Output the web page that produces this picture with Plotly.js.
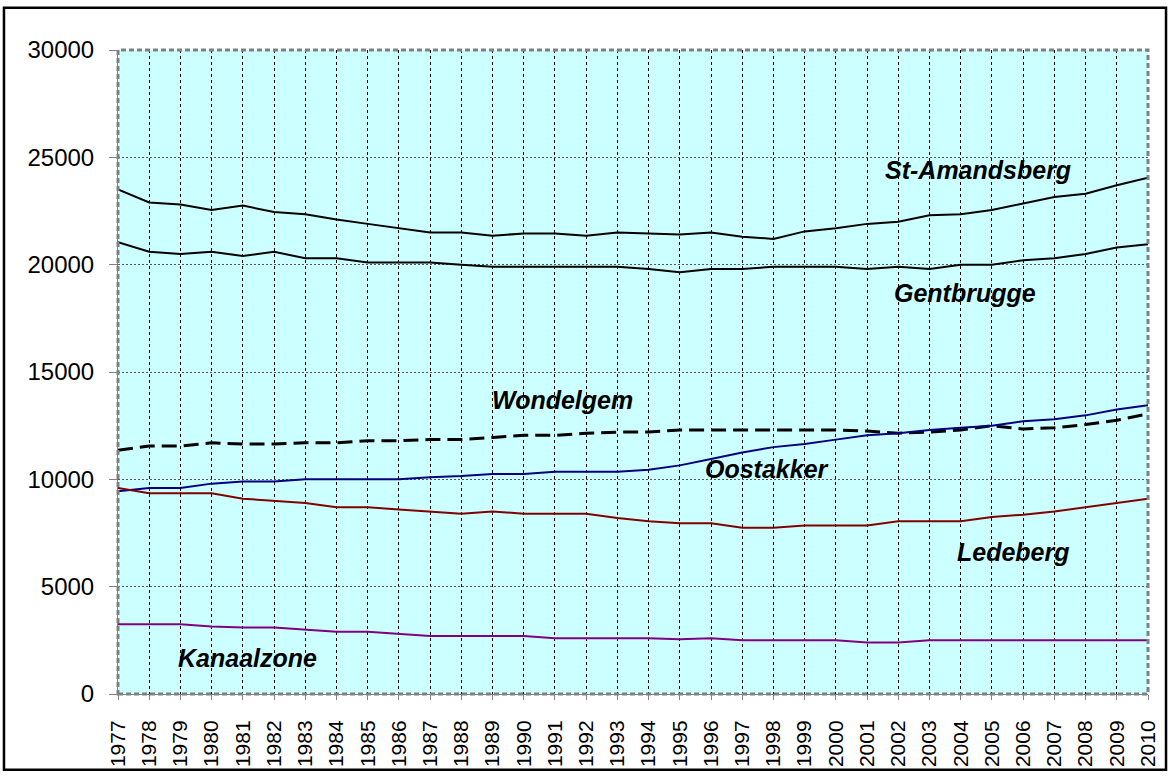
<!DOCTYPE html>
<html>
<head>
<meta charset="utf-8">
<script src="https://cdn.plot.ly/plotly-3.0.1.min.js"></script>
<style>
html,body{margin:0;padding:0;background:#fff;}
#chart{width:1175px;height:776px;}
</style>
</head>
<body>
<div id="chart"></div>
<script>
const years = [1977,1978,1979,1980,1981,1982,1983,1984,1985,1986,1987,1988,1989,1990,1991,1992,1993,1994,1995,1996,1997,1998,1999,2000,2001,2002,2003,2004,2005,2006,2007,2008,2009,2010];

const stAmandsberg = [23500,22900,22800,22550,22750,22450,22350,22100,21900,21700,21500,21500,21350,21450,21450,21350,21500,21450,21400,21500,21300,21200,21550,21700,21900,22000,22300,22350,22550,22850,23150,23300,23700,24050];
const gentbrugge   = [21050,20600,20500,20600,20400,20600,20300,20300,20100,20100,20100,20000,19900,19900,19900,19900,19900,19800,19650,19800,19800,19900,19900,19900,19800,19900,19800,20000,20000,20200,20300,20500,20800,20950];
const wondelgem    = [11350,11550,11550,11700,11650,11650,11700,11700,11800,11800,11850,11850,11950,12050,12050,12150,12200,12200,12300,12300,12300,12300,12300,12300,12250,12150,12200,12300,12500,12350,12400,12550,12750,13050];
const oostakker    = [9450,9600,9600,9800,9900,9900,10000,10000,10000,10000,10100,10150,10250,10250,10350,10350,10350,10450,10650,10950,11250,11500,11650,11850,12050,12150,12300,12400,12500,12700,12800,12980,13250,13450];
const ledeberg     = [9600,9350,9350,9350,9100,9000,8900,8700,8700,8600,8500,8400,8500,8400,8400,8400,8200,8050,7950,7950,7750,7750,7850,7850,7850,8050,8050,8050,8250,8350,8500,8700,8900,9100];
const kanaalzone   = [3250,3250,3250,3150,3100,3100,3000,2900,2900,2800,2700,2700,2700,2700,2600,2600,2600,2600,2550,2600,2500,2500,2500,2500,2400,2400,2500,2500,2500,2500,2500,2500,2500,2500];

const labelNames = ['St-Amandsberg','Gentbrugge','Wondelgem','Oostakker','Ledeberg','Kanaalzone'];

function tr(name, y, color, width, dash){
  return {x: years, y: y, name: name, type:'scatter', mode:'lines',
          line:{color:color, width:width, dash:dash||'solid'}, hoverinfo:'x+y+name'};
}

const data = [
  tr('St-Amandsberg', stAmandsberg, '#000000', 2),
  tr('Gentbrugge', gentbrugge, '#000000', 2),
  tr('Wondelgem', wondelgem, '#000000', 3, '15px,7px'),
  tr('Oostakker', oostakker, '#000080', 2),
  tr('Ledeberg', ledeberg, '#800000', 2),
  tr('Kanaalzone', kanaalzone, '#800080', 2)
];

const annPos = [
  [2004.55, 24420],
  [2004.13, 18690],
  [1991.25, 13710],
  [1997.8, 10500],
  [2005.7, 6630],
  [1981.15, 1690]
];
const annotations = labelNames.map((t,i)=>({
  x: annPos[i][0], y: annPos[i][1], xref:'x', yref:'y', text:'<b><i>'+t+'</i></b>',
  showarrow:false, font:{family:'Liberation Sans, Arial, sans-serif', size:25, color:'#000'},
  xanchor:'center', yanchor:'middle'
}));

const layout = {
  width:1175, height:776,
  margin:{l:118, r:27, t:50, b:82, pad:0},
  paper_bgcolor:'#ffffff',
  plot_bgcolor:'#ccffff',
  showlegend:false,
  font:{family:'Liberation Sans, Arial, sans-serif', color:'#000'},
  xaxis:{
    type:'linear', range:[1977,2010], tickmode:'array', tickvals:years, ticktext:years.map(String),
    tickangle:-90, tickfont:{size:21, color:'#000'},
    ticks:'outside', ticklen:5, tickcolor:'#808080', tickwidth:1,
    showgrid:true, gridcolor:'#000000', gridwidth:1, griddash:'3px,3px',
    showline:true, linecolor:'#808080', linewidth:1, mirror:false,
    zeroline:false, ticklabelstandoff:12, fixedrange:true
  },
  yaxis:{
    range:[0,30000], tickmode:'linear', tick0:0, dtick:5000, tickformat:'d',
    tickfont:{size:24, color:'#000'},
    ticks:'outside', ticklen:8, tickcolor:'#808080', tickwidth:1,
    showgrid:true, gridcolor:'#555555', gridwidth:1, griddash:'2px,2px',
    showline:true, linecolor:'#808080', linewidth:1,
    zeroline:false, ticklabelstandoff:10, fixedrange:true
  },
  annotations: annotations,
  shapes:[
    {type:'rect', xref:'paper', yref:'paper', x0:0, x1:1, y0:0, y1:1,
     line:{color:'#808080', width:3, dash:'5px,3px'}, layer:'above'},
    {type:'rect', xref:'paper', yref:'paper', x0:-0.1107, x1:1.0175, y0:-0.1175, y1:1.0657,
     line:{color:'#000000', width:2.5}, layer:'above'}
  ]
};

Plotly.newPlot('chart', data, layout, {displayModeBar:false, staticPlot:true});
</script>
</body>
</html>
